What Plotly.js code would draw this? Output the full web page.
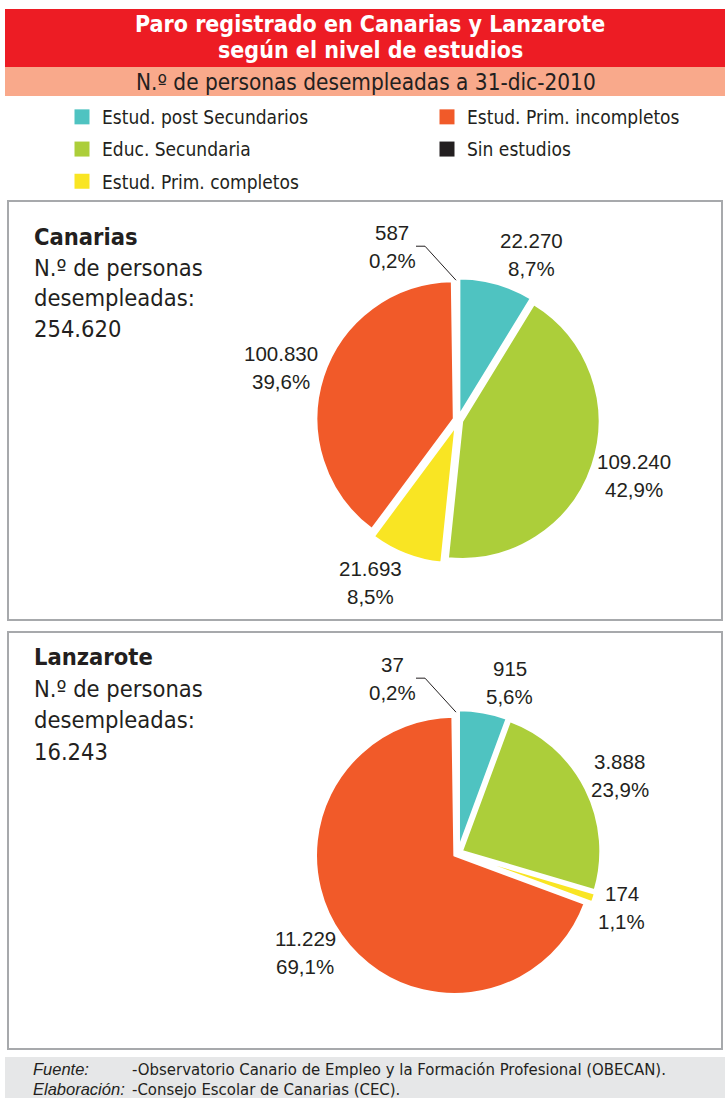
<!DOCTYPE html>
<html>
<head>
<meta charset="utf-8">
<script src="https://cdn.plot.ly/plotly-3.0.1.min.js"></script>
<style>html,body{margin:0;padding:0;background:#fff;}#chart{width:725px;height:1098px;}</style>
</head>
<body>
<div id="chart"></div>
<script>
// ---- data ----
const categories = ['Estud. post Secundarios', 'Educ. Secundaria', 'Estud. Prim. completos', 'Estud. Prim. incompletos', 'Sin estudios'];
const canariasValues = [22270, 109240, 21693, 100830, 587];
const lanzaroteValues = [915, 3888, 174, 11229, 37];
const regionNames = ['Canarias', 'Lanzarote'];
const titleLines = ['Paro registrado en Canarias y Lanzarote', 'según el nivel de estudios'];
const subtitle = 'N.º de personas desempleadas a 31-dic-2010';
const boxCaption = ['N.º de personas', 'desempleadas:'];
const sourceLabels = ['Fuente:', 'Elaboración:'];
const sourceTexts = ['-Observatorio Canario de Empleo y la Formación Profesional (OBECAN).', '-Consejo Escolar de Canarias (CEC).'];
const legendColumn = [1, 1, 1, 2, 2];

// ---- style ----
const colors = ['#4fc3c1', '#acce3a', '#f9e523', '#f15a29', '#231f20'];
const W = 725, H = 1098;
const NARROW = 'DejaVu Sans Condensed, Liberation Sans Narrow, sans-serif';
const SANS = 'Liberation Sans, Arial, sans-serif';
const TXT = '#231f20';
const LABEL_SIZE = 20.5;
const px = x => x / W;
const py = y => 1 - y / H;

const fmt = v => String(v).replace(/\B(?=(\d{3})+(?!\d))/g, '.');
const pct = (v, t) => (v / t * 100).toFixed(1).replace('.', ',') + '%';
const sum = a => a.reduce((s, v) => s + v, 0);
const charW = {'.': 0.278, ',': 0.278, '%': 0.889};
const textW = s => [...s].reduce((a, c) => a + (charW[c] || 0.556), 0) * LABEL_SIZE;

const pies = [
  {values: canariasValues, cx: 458, cy: 420, half: 144, boxTop: 201, boxBottom: 620, textTop: 237, textGap: 30.5, pull: [0.03, 0.03, 0.045, 0.03, 0.0]},
  {values: lanzaroteValues, cx: 458, cy: 853, half: 143, boxTop: 632, boxBottom: 1049, textTop: 657, textGap: 31.7, pull: [0.03, 0.03, 0.03, 0.03, 0.0]}
];

const traces = [];
const annotations = [];
const shapes = [];

// header bands
shapes.push({type: 'rect', xref: 'paper', yref: 'paper', x0: px(5), x1: px(725), y0: py(9), y1: py(67), fillcolor: '#ed1c24', line: {width: 0}, layer: 'below'});
shapes.push({type: 'rect', xref: 'paper', yref: 'paper', x0: px(5), x1: px(725), y0: py(67), y1: py(96), fillcolor: '#f9a98b', line: {width: 0}, layer: 'below'});
shapes.push({type: 'rect', xref: 'paper', yref: 'paper', x0: px(5), x1: px(725), y0: py(1057), y1: py(1098), fillcolor: '#e6e7e8', line: {width: 0}, layer: 'below'});

titleLines.forEach((t, i) => annotations.push({
  xref: 'paper', yref: 'paper', x: px(370), y: py(24 + i * 26), text: '<b>' + t + '</b>', showarrow: false,
  xanchor: 'center', yanchor: 'middle', font: {family: NARROW, size: 23, color: '#ffffff'}
}));
annotations.push({
  xref: 'paper', yref: 'paper', x: px(366), y: py(82), text: subtitle, showarrow: false,
  xanchor: 'center', yanchor: 'middle', font: {family: NARROW, size: 22.4, color: TXT}
});

function addLabel(lines, cx, cy) {
  lines.forEach((t, j) => annotations.push({
    xref: 'paper', yref: 'paper', x: px(cx), y: py(cy + (j - 0.5) * 28), text: t, showarrow: false,
    xanchor: 'center', yanchor: 'middle', font: {family: SANS, size: LABEL_SIZE, color: TXT}
  }));
}

// pies
pies.forEach((p, k) => {
  const total = sum(p.values);
  const maxPull = Math.max(...p.pull);
  const r = p.half / (1 + maxPull);
  traces.push({
    type: 'pie', values: p.values, labels: categories, sort: false, direction: 'clockwise', rotation: 0,
    marker: {colors: colors, line: {color: '#ffffff', width: 2.5}},
    pull: p.pull, textinfo: 'none', hoverinfo: 'label+value+percent', showlegend: false,
    domain: {x: [px(p.cx - p.half), px(p.cx + p.half)], y: [py(p.cy + p.half), py(p.cy - p.half)]}
  });
  // box
  shapes.push({type: 'rect', xref: 'paper', yref: 'paper', x0: px(8), x1: px(722), y0: py(p.boxBottom), y1: py(p.boxTop), line: {color: '#a7a9ac', width: 2}, layer: 'below'});
  // region text
  const lines = ['<b>' + regionNames[k] + '</b>', boxCaption[0], boxCaption[1], fmt(total)];
  lines.forEach((t, i) => annotations.push({
    xref: 'paper', yref: 'paper', x: px(32), y: py(p.textTop + i * p.textGap), text: t, showarrow: false,
    xanchor: 'left', yanchor: 'middle', font: {family: NARROW, size: 23.5, color: TXT}
  }));
  // slice labels
  let cum = 0;
  p.values.forEach((v, i) => {
    const frac = v / total;
    const theta = 2 * Math.PI * (cum + frac / 2);
    cum += frac;
    const lines2 = [fmt(v), pct(v, total)];
    const s = Math.sin(theta), c = Math.cos(theta);
    if (frac < 0.005) {
      const tx = p.cx + r * s, ty = p.cy - r * c;
      const lx = tx - 65, ly = ty - 36;
      addLabel(lines2, lx, ly);
      shapes.push({type: 'path', xref: 'paper', yref: 'paper',
        path: `M ${px(lx + 24)} ${py(ly)} L ${px(lx + 33)} ${py(ly)} L ${px(tx - 1)} ${py(ty - 2)}`,
        line: {color: TXT, width: 1}});
    } else {
      const re = r * (1 + p.pull[i]) + 2;
      const Px = p.cx + re * s, Py = p.cy - re * c;
      const w = Math.max(...lines2.map(textW)), h = 50;
      const lx = Px + Math.sign(s) * (w / 2 + 3);
      const ly = Py - c * (h / 2 + 3);
      addLabel(lines2, lx, ly);
    }
  });
});

// legend via marker-only traces
categories.forEach((c, i) => traces.push({
  type: 'scatter', mode: 'markers', x: [null], y: [null], name: c, legendgroup: 'g' + i,
  legend: legendColumn[i] === 1 ? 'legend' : 'legend2',
  marker: {symbol: 'square', size: 15, color: colors[i]}, hoverinfo: 'skip'
}));

// footer
sourceLabels.forEach((t, i) => {
  annotations.push({xref: 'paper', yref: 'paper', x: px(31), y: py(1069 + i * 20), text: '<i>' + t + '</i>', showarrow: false,
    xanchor: 'left', yanchor: 'middle', font: {family: SANS, size: 16.5, color: TXT}});
  annotations.push({xref: 'paper', yref: 'paper', x: px(130), y: py(1069 + i * 20), text: sourceTexts[i], showarrow: false,
    xanchor: 'left', yanchor: 'middle', font: {family: NARROW, size: 16.6, color: TXT}});
});

const legendStyle = {font: {family: NARROW, size: 19, color: TXT}, tracegroupgap: 4.5, bgcolor: 'rgba(0,0,0,0)',
  xanchor: 'left', yanchor: 'top', itemclick: false, itemdoubleclick: false};

const layout = {
  width: W, height: H, margin: {l: 0, r: 0, t: 0, b: 0}, paper_bgcolor: '#ffffff', plot_bgcolor: 'rgba(0,0,0,0)',
  xaxis: {visible: false, domain: [0, 0.01]}, yaxis: {visible: false, domain: [0, 0.01]},
  showlegend: true,
  legend: Object.assign({x: px(62), y: py(98)}, legendStyle),
  legend2: Object.assign({x: px(427), y: py(98)}, legendStyle),
  shapes: shapes, annotations: annotations
};

Plotly.newPlot('chart', traces, layout, {displayModeBar: false, staticPlot: true});
</script>
</body>
</html>
